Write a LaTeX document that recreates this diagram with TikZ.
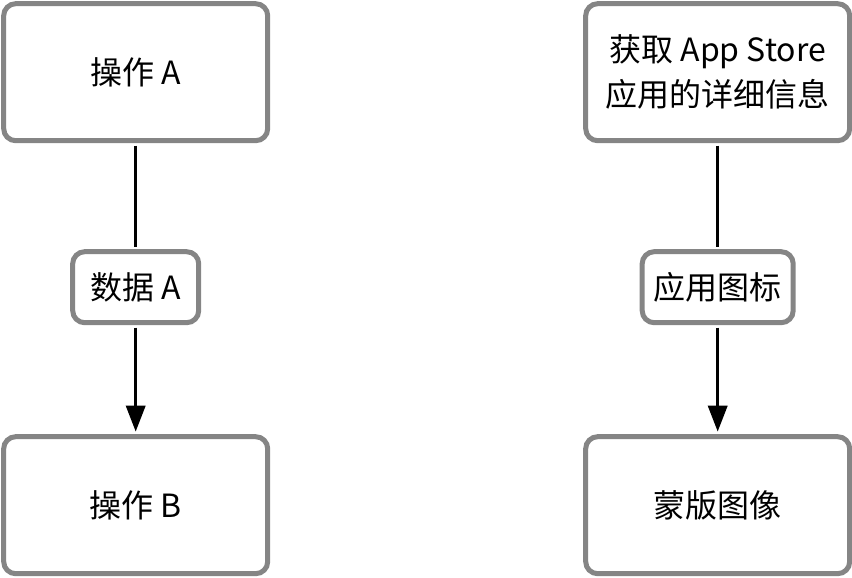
\documentclass[tikz,border=0pt]{standalone}
\usepackage{fontspec}
\setmainfont{Noto Sans CJK SC}
\usepackage{tikz}
\usetikzlibrary{matrix,arrows.meta}

\definecolor{boxgray}{RGB}{133,133,133}
\tikzset{
  opbox/.style={draw=boxgray, fill=white, line width=5pt, rounded corners=12pt,
    minimum width=264pt, minimum height=137pt, align=center,
    font=\fontsize{32}{45}\selectfont},
  databox/.style={draw=boxgray, fill=white, line width=5pt, rounded corners=12pt,
    minimum height=71pt, inner xsep=10pt, font=\fontsize{32}{45}\selectfont},
  flow/.style={line width=3.5pt, shorten <=2.5pt, shorten >=2.5pt}
}

\begin{document}
\begin{tikzpicture}[x=1pt, y=1pt]
  \useasboundingbox (0,0) rectangle (852,-578);
  \matrix (m) [row sep=106pt, column sep=313pt, inner sep=0pt, matrix anchor=north west] at (1,-1)
  {
    \node[opbox] (opA) {操作 A}; & \node[opbox] (fetch) {获取 App Store\\应用的详细信息}; \\
    \node[databox, minimum width=126pt] (dataA) {数据 A}; & \node[databox, minimum width=151pt] (icon) {应用图标}; \\[3pt]
    \node[opbox] (opB) {操作 B}; & \node[opbox] (mask) {蒙版图像}; \\
  };
  \path[flow]
  (opA) edge (dataA)
  (fetch) edge (icon)
  ;
  \path[flow, -{Triangle[length=26pt, width=19pt]}]
  (dataA) edge (opB)
  (icon) edge (mask)
  ;
\end{tikzpicture}
\end{document}
